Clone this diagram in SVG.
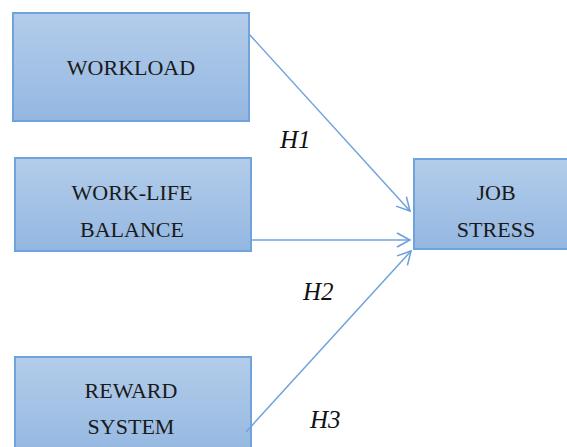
<svg xmlns="http://www.w3.org/2000/svg" width="567" height="447" viewBox="0 0 567 447">
<defs>
<linearGradient id="g" x1="0" y1="0" x2="0" y2="1">
<stop offset="0" stop-color="#b3cdea"/>
<stop offset="1" stop-color="#94b7e1"/>
</linearGradient>
<marker id="arr" markerWidth="16" markerHeight="16" refX="14" refY="8" orient="auto" markerUnits="userSpaceOnUse">
<path d="M1,1 L14,8 L1,15" fill="none" stroke="#6a9fd8" stroke-width="1.5"/>
</marker>
</defs>
<style>
.box{fill:url(#g);stroke:#6fa3dc;stroke-width:2}
.t{font-size:22px;fill:#1a1a1a;text-anchor:middle}
.h{font-size:25px;font-style:italic;fill:#111}
.c{fill:none;stroke:#6fa3dc;stroke-width:1.5;marker-end:url(#arr)}
</style>
<rect width="567" height="447" fill="#fff"/>
<g font-family="Liberation Serif, serif">
<g id="workload"><rect class="box" x="13" y="13" width="236" height="108"/><text class="t" x="131" y="75">WORKLOAD</text></g>
<g id="worklife"><rect class="box" x="15" y="158" width="236" height="93"/><text class="t" x="132" y="200">WORK-LIFE</text><text class="t" x="132" y="237">BALANCE</text></g>
<g id="reward"><rect class="box" x="15" y="357" width="236" height="100"/><text class="t" x="131" y="398">REWARD</text><text class="t" x="131" y="434">SYSTEM</text></g>
<g id="jobstress"><rect class="box" x="414" y="159" width="165" height="90"/><text class="t" x="496" y="200">JOB</text><text class="t" x="496" y="237">STRESS</text></g>
<g id="connectors">
<line class="c" x1="249" y1="34" x2="410" y2="211"/>
<line class="c" x1="252" y1="240" x2="410" y2="240"/>
<line class="c" x1="246" y1="432" x2="411" y2="251"/>
</g>
<g id="labels">
<text class="h" x="280" y="148">H1</text>
<text class="h" x="303" y="300">H2</text>
<text class="h" x="310" y="428">H3</text>
</g>
</g>
</svg>
